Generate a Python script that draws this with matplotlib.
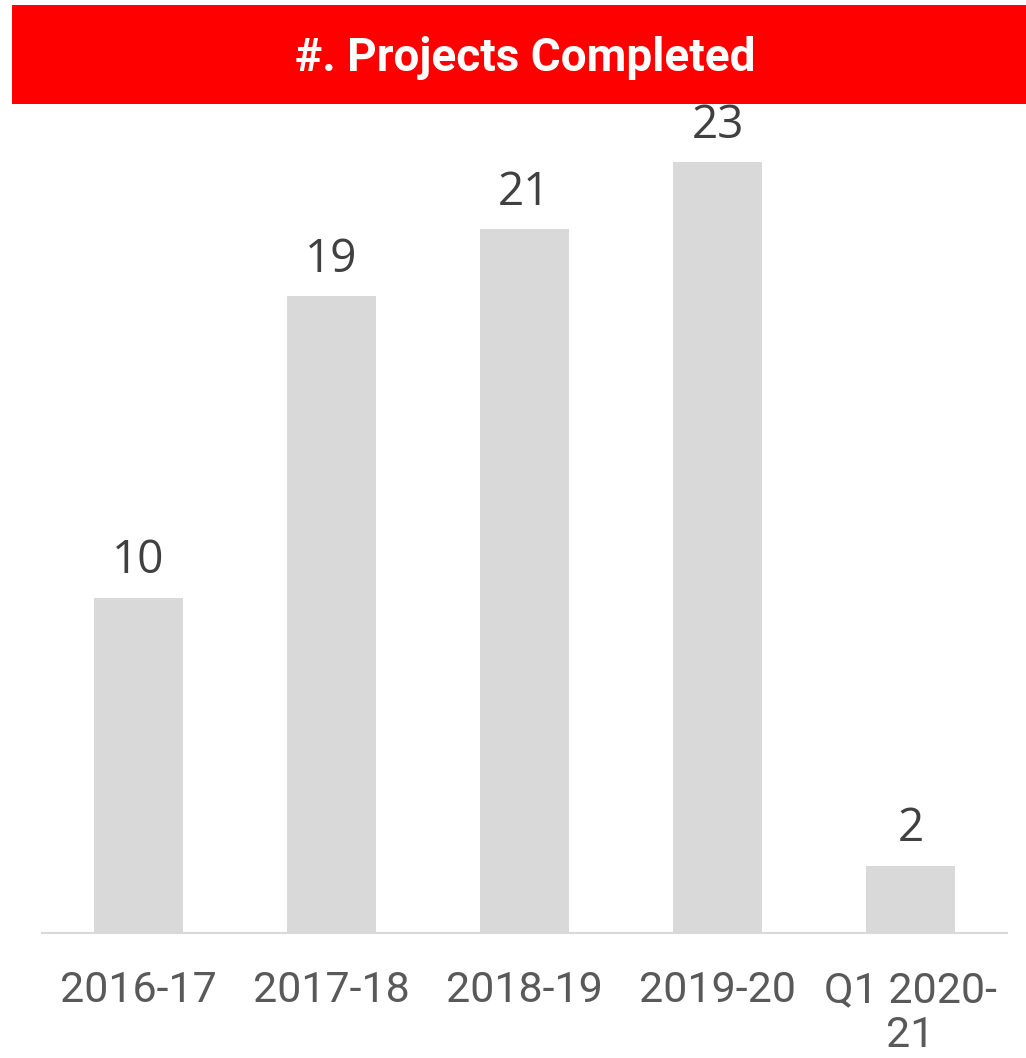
import matplotlib

matplotlib.use("Agg")
import matplotlib.pyplot as plt
from matplotlib.patches import Rectangle

CATEGORIES = ["2016-17", "2017-18", "2018-19", "2019-20", "Q1 2020-\n21"]
PROJECTS = [10, 19, 21, 23, 2]

BAR_COLOR = "#D9D9D9"
TEXT_COLOR = "#595959"
BANNER_RED = "#FF0000"

W, H = 1026, 1058
fig = plt.figure(figsize=(W / 100, H / 100), dpi=100, facecolor="white")

# red title banner
fig.patches.append(
    Rectangle((12 / W, 1 - 104 / H), 1 - 12 / W, 99 / H,
              transform=fig.transFigure, facecolor=BANNER_RED,
              edgecolor="none", zorder=0)
)
fig.text(525 / W, 1 - 58 / H, "#. Projects Completed", color="white",
         fontsize=33, fontweight="bold", ha="center", va="center",
         family=["Roboto", "DejaVu Sans"])

ax = fig.add_axes([42 / W, 1 - 933 / H, 965 / W, (933 - 104) / H])
ax.set_facecolor("none")

x = list(range(len(CATEGORIES)))
bars = ax.bar(x, PROJECTS, width=0.46, color=BAR_COLOR, zorder=2)

for bar, val in zip(bars, PROJECTS):
    ax.annotate(str(val), (bar.get_x() + bar.get_width() / 2, bar.get_height()),
                xytext=(0, 10), textcoords="offset points",
                ha="center", va="bottom", fontsize=33, color="#404040",
                family=["Open Sans", "DejaVu Sans"])

ax.set_xlim(-0.5, len(CATEGORIES) - 0.5)
ax.set_ylim(0, (933 - 104) / 33.5)
ax.set_xticks(x)
ax.set_xticklabels(CATEGORIES, fontsize=31, color=TEXT_COLOR,
                   family=["Roboto", "DejaVu Sans"], linespacing=1.1)
ax.tick_params(axis="x", length=0, pad=27)
ax.set_yticks([])
for side in ["top", "right", "left"]:
    ax.spines[side].set_visible(False)
ax.spines["bottom"].set_color(BAR_COLOR)
ax.spines["bottom"].set_linewidth(1.5)

fig.savefig("out.png", dpi=100, facecolor=fig.get_facecolor())
plt.close(fig)
